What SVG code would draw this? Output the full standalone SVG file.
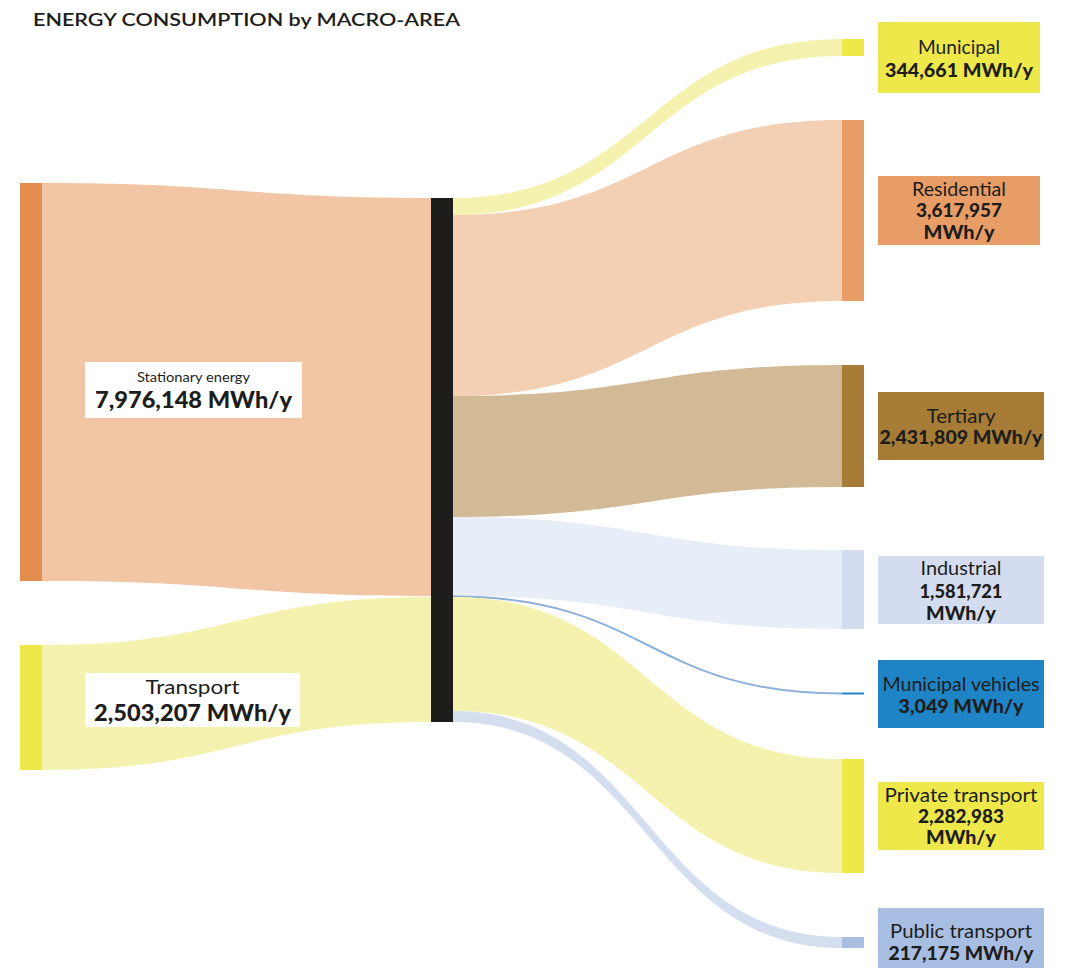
<svg xmlns="http://www.w3.org/2000/svg" width="1070" height="968" viewBox="0 0 1070 968">
<style>
text{font-family:Lato,"Open Sans","Liberation Sans",sans-serif;fill:#1d1d1b;text-anchor:middle}
.t{font-size:18px;font-weight:600;text-anchor:start}
.r{font-size:19px}
.b{font-size:19px;font-weight:900}
.s{font-size:13px}
.bl{font-size:22px;font-weight:900}
.lab{fill:#ffffff}
</style>
<rect width="1070" height="968" fill="#ffffff"/>
<text class="t" x="33" y="26" textLength="427" lengthAdjust="spacingAndGlyphs">ENERGY CONSUMPTION by MACRO-AREA</text>

<g id="connectors">
  <path d="M42,183 C236.5,183 236.5,198 431,198 L431,596 C236.5,596 236.5,581 42,581 Z" fill="#f2c6a5"/>
  <path d="M42,645 C236.5,645 236.5,597 431,597 L431,722 C236.5,722 236.5,770 42,770 Z" fill="#f5f2b0"/>
  <path d="M453,198 C647.5,198 647.5,39 842,39 L842,56 C647.5,56 647.5,215 453,215 Z" fill="#f5f2b0"/>
  <path d="M453,215 C647.5,215 647.5,120 842,120 L842,301 C647.5,301 647.5,396 453,396 Z" fill="#f3cfb3"/>
  <path d="M453,396 C647.5,396 647.5,365 842,365 L842,487 C647.5,487 647.5,517 453,517 Z" fill="#d3ba97"/>
  <path d="M453,517 C647.5,517 647.5,550 842,550 L842,629 C647.5,629 647.5,596 453,596 Z" fill="#e8eef7"/>
  <path d="M453,596.5 C647.5,596.5 647.5,693.5 842,693.5" fill="none" stroke="#8db0db" stroke-width="2"/>
  <path d="M453,597 C647.5,597 647.5,759 842,759 L842,873 C647.5,873 647.5,711 453,711 Z" fill="#f5f2b0"/>
  <path d="M453,711 C647.5,711 647.5,937 842,937 L842,948 C647.5,948 647.5,722 453,722 Z" fill="#d4deef"/>
</g>

<g id="hub">
  <rect x="431" y="198" width="22" height="524" fill="#1d1d1b"/>
</g>

<g id="stationary">
  <rect x="20" y="183" width="22" height="398" fill="#e38d4e"/>
  <rect class="lab" x="85" y="362" width="217" height="56"/>
  <text class="s" x="193.5" y="382" textLength="113" lengthAdjust="spacingAndGlyphs">Stationary energy</text>
  <text class="bl" x="193.5" y="408" textLength="197" lengthAdjust="spacingAndGlyphs">7,976,148 MWh/y</text>
</g>

<g id="transport">
  <rect x="20" y="645" width="22" height="125" fill="#eee84a"/>
  <rect class="lab" x="85" y="673" width="215" height="54"/>
  <text x="192.5" y="694" style="font-size:20px" textLength="94" lengthAdjust="spacingAndGlyphs">Transport</text>
  <text class="bl" x="192.5" y="721" textLength="197" lengthAdjust="spacingAndGlyphs">2,503,207 MWh/y</text>
</g>

<g id="municipal">
  <rect x="842" y="39" width="22" height="17" fill="#eee84a"/>
  <rect x="878" y="22" width="162" height="71" fill="#eee84a"/>
  <text class="r" x="959" y="54" textLength="82" lengthAdjust="spacingAndGlyphs">Municipal</text>
  <text class="b" x="959" y="77" textLength="148" lengthAdjust="spacingAndGlyphs">344,661 MWh/y</text>
</g>

<g id="residential">
  <rect x="842" y="120" width="22" height="181" fill="#e89c66"/>
  <rect x="878" y="176" width="162" height="69" fill="#e89c66"/>
  <text class="r" x="959" y="196" textLength="94" lengthAdjust="spacingAndGlyphs">Residential</text>
  <text class="b" x="959" y="217" textLength="86" lengthAdjust="spacingAndGlyphs">3,617,957</text>
  <text class="b" x="959" y="239" textLength="71" lengthAdjust="spacingAndGlyphs">MWh/y</text>
</g>

<g id="tertiary">
  <rect x="842" y="365" width="22" height="122" fill="#a67c37"/>
  <rect x="878" y="392" width="166" height="68" fill="#a67c37"/>
  <text class="r" x="961" y="423" textLength="69" lengthAdjust="spacingAndGlyphs">Tertiary</text>
  <text class="b" x="961" y="444" textLength="163" lengthAdjust="spacingAndGlyphs">2,431,809 MWh/y</text>
</g>

<g id="industrial">
  <rect x="842" y="550" width="22" height="79" fill="#d3ddef"/>
  <rect x="878" y="556" width="166" height="68" fill="#d3ddef"/>
  <text class="r" x="961" y="575" textLength="81" lengthAdjust="spacingAndGlyphs">Industrial</text>
  <text class="b" x="961" y="598" textLength="83" lengthAdjust="spacingAndGlyphs">1,581,721</text>
  <text class="b" x="961" y="620" textLength="70" lengthAdjust="spacingAndGlyphs">MWh/y</text>
</g>

<g id="municipal-vehicles">
  <rect x="842" y="692.5" width="22" height="2" fill="#1e84c6"/>
  <rect x="878" y="660" width="166" height="68" fill="#1e84c6"/>
  <text class="r" x="961" y="691" textLength="157" lengthAdjust="spacingAndGlyphs">Municipal vehicles</text>
  <text class="b" x="961" y="713" textLength="125" lengthAdjust="spacingAndGlyphs">3,049 MWh/y</text>
</g>

<g id="private-transport">
  <rect x="842" y="759" width="22" height="114" fill="#eee84a"/>
  <rect x="878" y="782" width="166" height="68" fill="#eee84a"/>
  <text class="r" x="961" y="802" textLength="153" lengthAdjust="spacingAndGlyphs">Private transport</text>
  <text class="b" x="961" y="823" textLength="86" lengthAdjust="spacingAndGlyphs">2,282,983</text>
  <text class="b" x="961" y="844" textLength="70" lengthAdjust="spacingAndGlyphs">MWh/y</text>
</g>

<g id="public-transport">
  <rect x="842" y="937" width="22" height="11" fill="#a7bee2"/>
  <rect x="878" y="908" width="166" height="60" fill="#a7bee2"/>
  <text class="r" x="961" y="938" textLength="142" lengthAdjust="spacingAndGlyphs">Public transport</text>
  <text class="b" x="961" y="960" textLength="145" lengthAdjust="spacingAndGlyphs">217,175 MWh/y</text>
</g>
</svg>
